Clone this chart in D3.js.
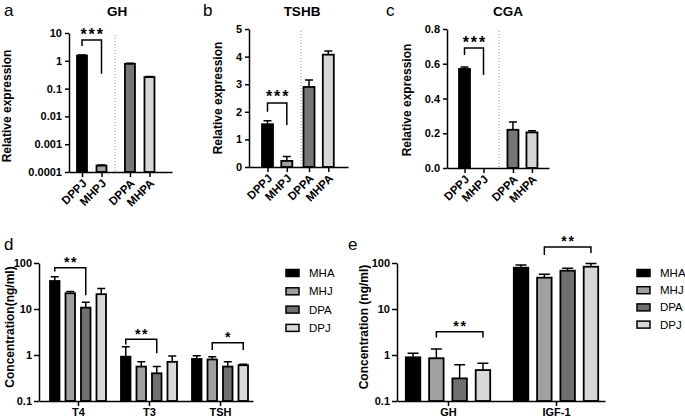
<!DOCTYPE html>
<html><head><meta charset="utf-8">
<script src="https://cdn.jsdelivr.net/npm/d3@7"></script>
<style>
body{margin:0;background:#fff}
svg{display:block}
text{font-family:"Liberation Sans",Arial,Helvetica,sans-serif;fill:#000}
</style>
</head><body>
<svg id="chart" width="685" height="419"></svg>
<script>
// ---------- DATA ----------
const geneSamples = ["DPPJ", "MHPJ", "DPPA", "MHPA"];
const geneColors = ["#000000", "#a3a3a3", "#767676", "#d6d6d6"];

const ghValues   = [1.55, 0.00017, 0.78, 0.26];
const ghErrors   = [0.08, 0.00001, 0.03, 0.01];
const tshbValues = [1.55, 0.22, 2.9, 4.07];
const tshbErrors = [0.13, 0.16, 0.25, 0.13];
const cgaValues  = [0.57, 0, 0.22, 0.205];
const cgaErrors  = [0.012, 0, 0.045, 0.01];

const ghTicks   = [0.0001, 0.001, 0.01, 0.1, 1, 10];
const tshbTicks = [0, 1, 2, 3, 4, 5];
const cgaTicks  = [0, 0.2, 0.4, 0.6, 0.8];

const seriesNames  = ["MHA", "MHJ", "DPA", "DPJ"];
const seriesColors = ["#000000", "#a0a0a0", "#707070", "#d8d8d8"];

const thyroidGroups = ["T4", "T3", "TSH"];
const thyroidMHA = [40.6, 0.92, 0.82];
const thyroidMHJ = [22, 0.56, 0.80];
const thyroidDPA = [10.7, 0.40, 0.56];
const thyroidDPJ = [21, 0.71, 0.60];
const thyroidErrMHA = [9.4, 0.6, 0.14];
const thyroidErrMHJ = [2, 0.15, 0.12];
const thyroidErrDPA = [3.3, 0.16, 0.15];
const thyroidErrDPJ = [7, 0.24, 0.03];

const growthGroups = ["GH", "IGF-1"];
const growthMHA = [0.89, 79];
const growthMHJ = [0.85, 48];
const growthDPA = [0.31, 68];
const growthDPJ = [0.47, 83];
const growthErrMHA = [0.2, 11];
const growthErrMHJ = [0.5, 9];
const growthErrDPA = [0.3, 9];
const growthErrDPJ = [0.19, 15];

const concTicks = [0.1, 1, 10, 100];

// significance brackets: [fromIndex, toIndex, topValue, leftLegEnd, rightLegEnd, label]
const sigGH   = [0, 1, 5.6, 3.4, 0.34, "***"];
const sigTSHB = [0, 1, 2.32, 2.0, 1.52, "***"];
const sigCGA  = [0, 1, 0.69, 0.65, 0.535, "***"];
// grouped: [group, fromSeries, toSeries, top, leftEnd, rightEnd, label]
const sigThyroid = [
  [0, 0, 2, 79, 65, 20, "**"],
  [1, 0, 2, 2.2, 1.7, 1.09, "**"],
  [2, 1, 3, 1.85, 1.28, 1.28, "*"]
];
const sigGrowth = [
  [0, 1, 3, 3.2, 2.4, 2.4, "**"],
  [1, 1, 3, 223, 149, 165, "**"]
];

// ---------- DRAWING ----------
const svg = d3.select("#chart");
const FONT = '"Liberation Sans",Arial,Helvetica,sans-serif';

function styleAxis(g, fs) {
  g.selectAll("path.domain").attr("stroke", "#000").attr("stroke-width", 1.5);
  g.selectAll(".tick line").attr("stroke", "#000").attr("stroke-width", 1.5);
  g.selectAll(".tick text").attr("font-family", FONT).attr("font-weight", "bold")
    .attr("font-size", fs || 11).attr("fill", "#000");
}

function drawBracket(x1, x2, yTop, yL, yR, label, fs) {
  svg.append("path")
    .attr("d", `M${x1},${yL}V${yTop}H${x2}V${yR}`)
    .attr("fill", "none").attr("stroke", "#000").attr("stroke-width", 1.5);
  svg.append("text").attr("x", (x1 + x2) / 2 + fs * 0.06).attr("y", yTop - 0.5)
    .attr("text-anchor", "middle").attr("font-weight", "bold")
    .attr("letter-spacing", fs * 0.12)
    .attr("font-size", fs).text(label);
}

function genePanel(cfg) {
  const y = cfg.log
    ? d3.scaleLog().domain(cfg.domain).range([cfg.yBot, cfg.yTop])
    : d3.scaleLinear().domain(cfg.domain).range([cfg.yBot, cfg.yTop]);
  const pos = geneSamples.map((d, i) => i + (i >= 2 ? cfg.gap : 0));
  const x = d3.scaleLinear()
    .domain([(cfg.axisX - cfg.c0) / cfg.step, (cfg.axisEnd - cfg.c0) / cfg.step])
    .range([cfg.axisX, cfg.axisEnd]);

  // divider
  const divP = (cfg.divider - cfg.c0) / cfg.step;
  svg.append("line").attr("x1", x(divP)).attr("x2", x(divP))
    .attr("y1", cfg.yTop + 2).attr("y2", cfg.yBot)
    .attr("stroke", "#999").attr("stroke-width", 1).attr("stroke-dasharray", "1,2");

  // bars
  const base = cfg.log ? cfg.domain[0] : 0;
  cfg.values.forEach((v, i) => {
    if (v <= 0) return;
    const cx = x(pos[i]);
    svg.append("rect")
      .attr("x", cx - cfg.bw / 2).attr("width", cfg.bw)
      .attr("y", y(v)).attr("height", y(base) - y(v))
      .attr("fill", geneColors[i]).attr("stroke", "#000").attr("stroke-width", 1.8);
    const e = cfg.errors[i];
    if (e > 0) {
      svg.append("path")
        .attr("d", `M${cx},${y(v)}V${y(v + e)}M${cx - 4},${y(v + e)}H${cx + 4}`)
        .attr("stroke", "#000").attr("stroke-width", 1.5).attr("fill", "none");
    }
  });

  // y axis
  const ya = svg.append("g").attr("transform", `translate(${cfg.axisX},0)`)
    .call(d3.axisLeft(y).tickValues(cfg.ticks).tickSize(4).tickSizeOuter(0).tickPadding(3)
      .tickFormat(cfg.fmt));
  styleAxis(ya, 11);

  // x axis
  const xa = svg.append("g").attr("transform", `translate(0,${cfg.yBot})`)
    .call(d3.axisBottom(x).tickValues(pos).tickSize(5).tickSizeOuter(0)
      .tickFormat((d, i) => geneSamples[i]));
  styleAxis(xa, 11.5);
  xa.selectAll(".tick text").attr("y", 0).attr("dy", 0).attr("x", 0)
    .attr("text-anchor", "end").attr("transform", "translate(5,12) rotate(-45)");

  // title, letter, y label
  svg.append("text").attr("x", cfg.titleX).attr("y", 16).attr("text-anchor", "middle")
    .attr("font-weight", "bold").attr("font-size", 13.5).text(cfg.title);
  svg.append("text").attr("x", cfg.letterX).attr("y", 16).attr("font-size", 17).text(cfg.letter);
  svg.append("text").attr("transform", `translate(${cfg.ylabX},${cfg.ylabY}) rotate(-90)`)
    .attr("text-anchor", "middle").attr("font-weight", "bold").attr("font-size", 12)
    .text("Relative expression");

  // significance
  const s = cfg.sig;
  drawBracket(x(pos[s[0]]), x(pos[s[1]]), y(s[2]), y(s[3]), y(s[4]), s[5], 16);
}

genePanel({ values: ghValues, errors: ghErrors, log: true, domain: [0.0001, 10], ticks: ghTicks,
  fmt: d => String(d), axisX: 69, axisEnd: 172, yTop: 33, yBot: 172, c0: 82, step: 19.5, gap: 0.46,
  divider: 115, bw: 10, title: "GH", titleX: 117, letter: "a", letterX: 4, ylabX: 11, ylabY: 106,
  sig: sigGH });
genePanel({ values: tshbValues, errors: tshbErrors, log: false, domain: [0, 5], ticks: tshbTicks,
  fmt: d3.format("d"), axisX: 249, axisEnd: 348, yTop: 29, yBot: 167, c0: 267.5, step: 19.3, gap: 0.15,
  divider: 301, bw: 11, title: "TSHB", titleX: 302, letter: "b", letterX: 203, ylabX: 222, ylabY: 98,
  sig: sigTSHB });
genePanel({ values: cgaValues, errors: cgaErrors, log: false, domain: [0, 0.8], ticks: cgaTicks,
  fmt: d3.format(".1f"), axisX: 447, axisEnd: 549, yTop: 29, yBot: 168, c0: 464.5, step: 19, gap: 0.55,
  divider: 499, bw: 11, title: "CGA", titleX: 508, letter: "c", letterX: 386, ylabX: 411, ylabY: 100,
  sig: sigCGA });

function groupedPanel(cfg) {
  const y = d3.scaleLog().domain([0.1, 100]).range([401, 263]);
  const x = d3.scaleLinear()
    .domain([(cfg.axisX - cfg.c0) / cfg.step, (cfg.axisEnd - cfg.c0) / cfg.step])
    .range([cfg.axisX, cfg.axisEnd]);
  const gpos = cfg.groups.map((d, i) => i);
  const barX = (g, s) => x(g) + (s - 1.5) * cfg.inner;

  cfg.series.forEach((vals, s) => {
    vals.forEach((v, g) => {
      const cx = barX(g, s);
      svg.append("rect")
        .attr("x", cx - cfg.bw / 2).attr("width", cfg.bw)
        .attr("y", y(v)).attr("height", y(0.1) - y(v))
        .attr("fill", seriesColors[s]).attr("stroke", "#000").attr("stroke-width", 1.8);
      const e = cfg.errs[s][g];
      svg.append("path")
        .attr("d", `M${cx},${y(v)}V${y(v + e)}M${cx - cfg.cap},${y(v + e)}H${cx + cfg.cap}`)
        .attr("stroke", "#000").attr("stroke-width", 1.5).attr("fill", "none");
    });
  });

  const ya = svg.append("g").attr("transform", `translate(${cfg.axisX},0)`)
    .call(d3.axisLeft(y).tickValues(concTicks).tickSize(5).tickSizeOuter(0).tickPadding(2)
      .tickFormat(d => String(d)));
  styleAxis(ya, 11);
  const xa = svg.append("g").attr("transform", `translate(0,401)`)
    .call(d3.axisBottom(x).tickValues(gpos).tickSize(5).tickSizeOuter(0).tickPadding(2)
      .tickFormat((d, i) => cfg.groups[i]));
  styleAxis(xa, 11);

  svg.append("text").attr("x", cfg.letterX).attr("y", 250).attr("font-size", 17).text(cfg.letter);
  svg.append("text").attr("transform", `translate(${cfg.ylabX},327) rotate(-90)`)
    .attr("text-anchor", "middle").attr("font-weight", "bold").attr("font-size", 12)
    .text(cfg.ylab);

  cfg.sig.forEach(s => {
    drawBracket(barX(s[0], s[1]), barX(s[0], s[2]), y(s[3]), y(s[4]), y(s[5]), s[6], 14);
  });

  // legend
  seriesNames.forEach((n, i) => {
    const ly = cfg.legY + i * cfg.legStep;
    svg.append("rect").attr("x", cfg.legX).attr("y", ly - 3.5).attr("width", 13).attr("height", 7)
      .attr("fill", seriesColors[i]).attr("stroke", "#000").attr("stroke-width", 1.5);
    svg.append("text").attr("x", cfg.legX + 23).attr("y", ly + 4).attr("font-size", 11.5)
      .attr("fill", "#222").text(n);
  });
}

groupedPanel({ groups: thyroidGroups,
  series: [thyroidMHA, thyroidMHJ, thyroidDPA, thyroidDPJ],
  errs: [thyroidErrMHA, thyroidErrMHJ, thyroidErrDPA, thyroidErrDPJ],
  axisX: 39, axisEnd: 253, c0: 78, step: 71, inner: 15.5, bw: 9.5, cap: 4,
  letter: "d", letterX: 4, ylabX: 14, ylab: "Concentration(ng/ml)",
  sig: sigThyroid, legX: 286, legY: 273, legStep: 18.3 });

groupedPanel({ groups: growthGroups,
  series: [growthMHA, growthMHJ, growthDPA, growthDPJ],
  errs: [growthErrMHA, growthErrMHJ, growthErrDPA, growthErrDPJ],
  axisX: 397, axisEnd: 605, c0: 448, step: 108, inner: 23.3, bw: 14.5, cap: 5.5,
  letter: "e", letterX: 348, ylabX: 368, ylab: "Concentration (ng/ml)",
  sig: sigGrowth, legX: 637, legY: 273, legStep: 17.2 });
</script>
</body></html>
